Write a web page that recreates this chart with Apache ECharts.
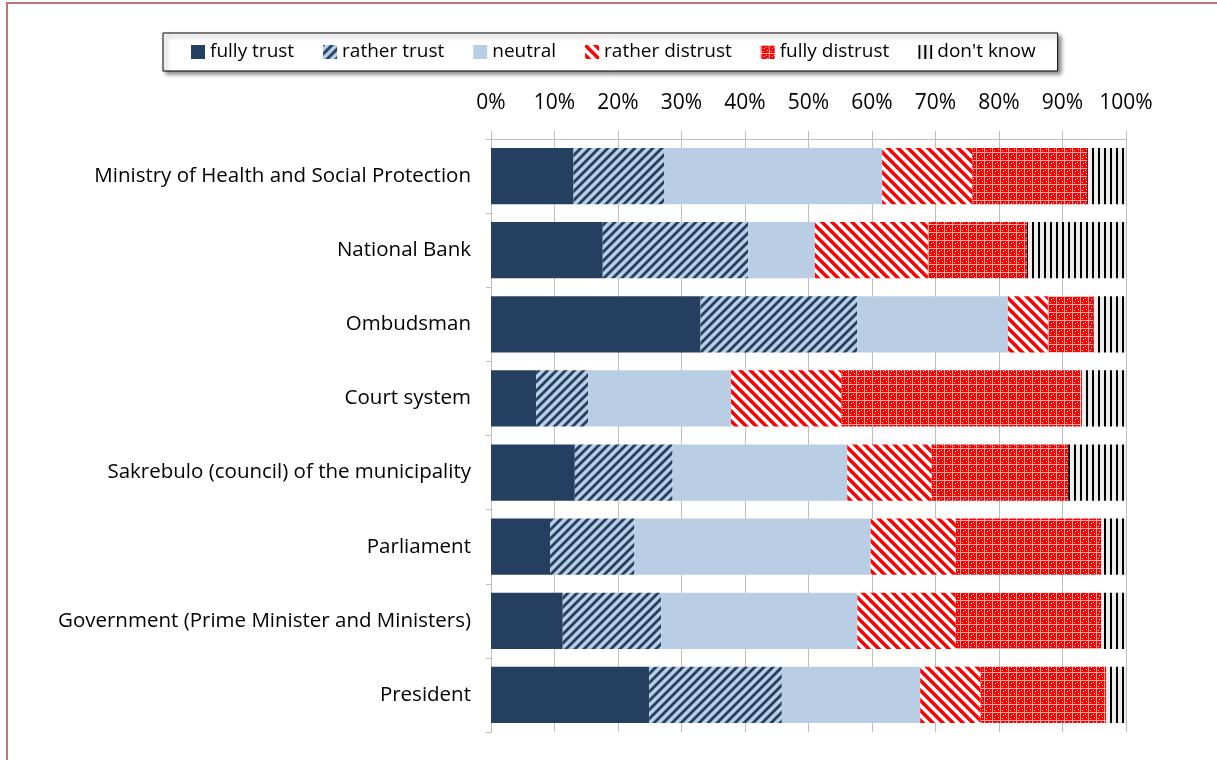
<!DOCTYPE html>
<html>
<head>
<meta charset="utf-8">
<title>Trust in institutions</title>
<script src="https://cdn.jsdelivr.net/npm/echarts@6/dist/echarts.min.js"></script>
<style>
  html, body { margin: 0; padding: 0; background: #fff; }
  #chart { width: 1217px; height: 760px; }
</style>
</head>
<body>
<div id="chart"></div>
<script>
// --- data (percent of respondents) ---
var institutions = [
  'Ministry of Health and Social Protection',
  'National Bank',
  'Ombudsman',
  'Court system',
  'Sakrebulo (council) of the municipality',
  'Parliament',
  'Government (Prime Minister and Ministers)',
  'President'
];
var seriesNames = ['fully trust', 'rather trust', 'neutral', 'rather distrust', 'fully distrust', "don't know"];
var fullyTrust     = [13.0, 17.6, 33.0,  7.1, 13.2,  9.3, 11.3, 24.9];
var ratherTrust    = [14.3, 22.9, 24.7,  8.2, 15.4, 13.3, 15.5, 20.9];
var neutral        = [34.3, 10.5, 23.7, 22.5, 27.5, 37.2, 30.9, 21.8];
var ratherDistrust = [14.2, 17.8,  6.3, 17.4, 13.3, 13.4, 15.5,  9.5];
var fullyDistrust  = [18.1, 15.6,  7.2, 37.8, 21.5, 22.9, 22.9, 19.8];
var dontKnow       = [ 6.1, 15.6,  5.1,  7.0,  9.1,  3.9,  3.9,  3.1];
var xTicks = [0, 10, 20, 30, 40, 50, 60, 70, 80, 90, 100];

var FONT = '"Open Sans", Lato, sans-serif';
var NAVY = '#243F60';
var LIGHT = '#B9CDE5';
var RED = '#FF0000';

// pattern tiles drawn on small canvases
function tile(size, draw) {
  var c = document.createElement('canvas');
  c.width = size; c.height = size;
  draw(c.getContext('2d'), size);
  return { image: c, repeat: 'repeat' };
}

function diag(bg, fg, size, width, up) {
  return tile(size, function (g, s) {
    g.fillStyle = bg; g.fillRect(0, 0, s, s);
    g.strokeStyle = fg; g.lineWidth = width; g.lineCap = 'butt';
    [-s, 0, s].forEach(function (o) {
      g.beginPath();
      if (up) { g.moveTo(o - 1, s + 1); g.lineTo(o + s + 1, -1); }
      else    { g.moveTo(o - 1, -1);    g.lineTo(o + s + 1, s + 1); }
      g.stroke();
    });
  });
}

var patRatherTrust = diag(LIGHT, NAVY, 9, 2.8, true);
var patRatherDistrust = diag('#FFFFFF', RED, 10, 3.6, false);

var patFullyDistrust = tile(8, function (g, s) {
  g.fillStyle = RED; g.fillRect(0, 0, s, s);
  g.fillStyle = 'rgba(255,190,190,0.9)';
  g.fillRect(0, 0, s, 1);
  g.fillRect(0, 0, 1, s);
  g.fillStyle = '#FFFFFF';
  g.fillRect(3, 3, 1, 1);
  g.fillRect(6, 5, 1, 1);
  g.fillRect(2, 6, 1, 1);
  g.fillRect(5, 2, 1, 1);
});

var patDontKnow = tile(6, function (g, s) {
  g.fillStyle = '#ECECEC'; g.fillRect(0, 0, s, s);
  g.fillStyle = '#000000'; g.fillRect(0, 0, 2, s);
});

var fills = [NAVY, patRatherTrust, LIGHT, patRatherDistrust, patFullyDistrust, patDontKnow];
var values = [fullyTrust, ratherTrust, neutral, ratherDistrust, fullyDistrust, dontKnow];

var series = seriesNames.map(function (name, i) {
  return {
    name: name,
    type: 'bar',
    stack: 'all',
    barCategoryGap: '24%',
    itemStyle: { color: fills[i] },
    emphasis: { disabled: true },
    data: values[i]
  };
});

var chart = echarts.init(document.getElementById('chart'), null, { renderer: 'canvas' });
chart.setOption({
  animation: false,
  backgroundColor: '#fff',
  textStyle: { fontFamily: FONT },
  graphic: [{
    type: 'rect',
    shape: { x: 7, y: 3, width: 1400, height: 900 },
    style: { fill: 'none', stroke: '#C47272', lineWidth: 2 },
    silent: true
  }],
  legend: {
    left: 163,
    top: 33,
    icon: 'rect',
    selectedMode: false,
    itemWidth: 14,
    itemHeight: 14,
    itemGap: 29,
    padding: [8, 22, 8, 28],
    borderColor: '#000',
    borderWidth: 1,
    backgroundColor: '#fff',
    shadowColor: 'rgba(0,0,0,0.45)',
    shadowBlur: 4,
    shadowOffsetX: 3,
    shadowOffsetY: 3,
    textStyle: { fontFamily: FONT, fontSize: 19, color: '#000', lineHeight: 22 },
    data: seriesNames
  },
  grid: { left: 491, right: 91, top: 139, bottom: 28, containLabel: false },
  xAxis: {
    type: 'value',
    position: 'top',
    min: xTicks[0],
    max: xTicks[xTicks.length - 1],
    interval: xTicks[1] - xTicks[0],
    axisLine: { show: true, lineStyle: { color: '#BEBEBE' } },
    axisTick: { show: true, length: 8, lineStyle: { color: '#BEBEBE' } },
    splitLine: { show: true, lineStyle: { color: '#BEBEBE' } },
    axisLabel: {
      formatter: '{value}%',
      margin: 25,
      fontFamily: FONT, fontSize: 21, color: '#000'
    }
  },
  yAxis: {
    type: 'category',
    inverse: true,
    data: institutions,
    axisLine: { show: true, lineStyle: { color: '#BEBEBE' } },
    axisTick: { show: true, length: 5, lineStyle: { color: '#BEBEBE' } },
    axisLabel: { margin: 20, fontFamily: FONT, fontSize: 20.5, color: '#000' }
  },
  series: series
});
</script>
</body>
</html>
